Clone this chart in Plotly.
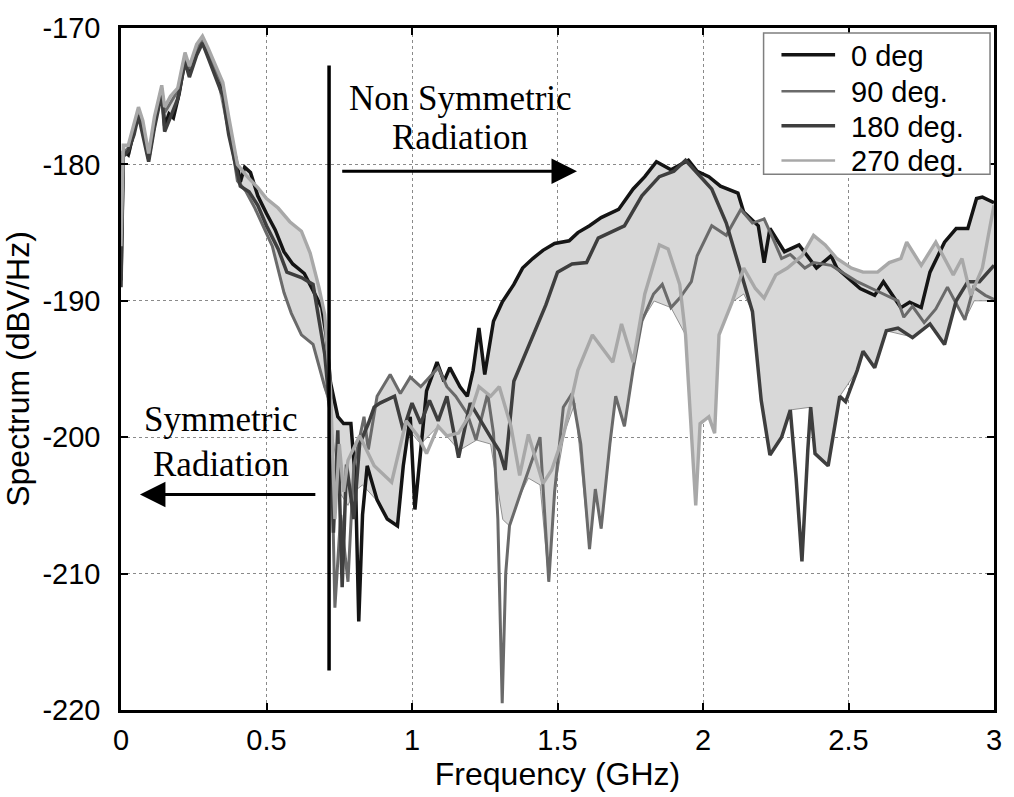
import numpy as np
import plotly.graph_objects as go

# ---------------- data ----------------
freq_0 = [0.000, 0.008, 0.025, 0.045, 0.060, 0.075, 0.095, 0.115, 0.140, 0.150, 0.165, 0.180, 0.200, 0.220, 0.235,
          0.260, 0.280, 0.300, 0.330, 0.350, 0.370, 0.395, 0.410, 0.425, 0.445, 0.470, 0.500, 0.530, 0.560, 0.590,
          0.630, 0.660, 0.690, 0.705, 0.720, 0.745, 0.765, 0.790, 0.806, 0.817, 0.830, 0.846, 0.860, 0.880, 0.915,
          0.950, 0.970, 0.994, 1.010, 1.030, 1.050, 1.086, 1.110, 1.130, 1.165, 1.190, 1.210, 1.230, 1.250, 1.280,
          1.310, 1.350, 1.380, 1.415, 1.450, 1.490, 1.540, 1.570, 1.610, 1.650, 1.710, 1.760, 1.800, 1.840, 1.890,
          1.950, 1.980, 2.020, 2.060, 2.120, 2.140, 2.190, 2.210, 2.230, 2.280, 2.330, 2.390, 2.440, 2.460, 2.540,
          2.590, 2.620, 2.680, 2.710, 2.750, 2.780, 2.830, 2.870, 2.910, 2.940, 2.960, 3.000]
spec_0 = [-188.5, -179.0, -179.3, -177.5, -176.2, -177.5, -179.6, -177.0, -174.6, -177.2, -176.3, -176.6, -174.8,
          -172.3, -173.4, -171.8, -170.9, -172.0, -173.6, -174.6, -177.5, -179.6, -181.3, -180.2, -180.6, -182.3,
          -183.6, -184.8, -186.4, -187.3, -188.0, -189.2, -190.5, -192.5, -196.0, -198.5, -199.0, -199.0, -203.3,
          -213.5, -205.7, -202.1, -203.1, -204.6, -206.0, -206.5, -202.1, -198.5, -205.3, -200.9, -196.6, -194.5,
          -195.9, -194.9, -196.3, -197.0, -195.1, -192.0, -195.4, -191.5, -190.1, -188.8, -187.6, -186.9, -186.3,
          -185.8, -185.6, -185.0, -184.5, -183.9, -183.3, -181.8, -180.9, -179.8, -180.4, -179.7, -180.5, -180.9,
          -181.6, -182.1, -183.5, -184.5, -187.2, -184.7, -186.4, -185.9, -187.6, -186.7, -187.6, -189.1, -189.6,
          -188.6, -190.5, -190.1, -190.5, -187.9, -185.7, -184.7, -184.7, -182.5, -182.4, -182.8]

freq_90 = [0.000, 0.008, 0.025, 0.045, 0.060, 0.075, 0.095, 0.115, 0.140, 0.150, 0.170, 0.195, 0.220, 0.235, 0.260,
           0.280, 0.300, 0.330, 0.350, 0.370, 0.400, 0.430, 0.460, 0.490, 0.520, 0.560, 0.585, 0.620, 0.660, 0.700,
           0.720, 0.735, 0.755, 0.780, 0.800, 0.835, 0.850, 0.880, 0.925, 0.960, 0.994, 1.030, 1.090, 1.120, 1.150,
           1.190, 1.220, 1.260, 1.280, 1.295, 1.310, 1.322, 1.335, 1.370, 1.400, 1.440, 1.470, 1.490, 1.520, 1.550,
           1.580, 1.610, 1.630, 1.650, 1.680, 1.700, 1.730, 1.760, 1.790, 1.830, 1.860, 1.890, 1.920, 1.960, 1.980,
           2.030, 2.080, 2.130, 2.170, 2.210, 2.240, 2.270, 2.300, 2.350, 2.380, 2.440, 2.500, 2.530, 2.600, 2.670,
           2.690, 2.720, 2.760, 2.800, 2.840, 2.870, 2.900, 2.930, 2.970, 3.000]
spec_90 = [-187.5, -179.2, -178.8, -177.2, -176.0, -177.2, -179.4, -176.8, -174.4, -176.2, -175.5, -174.6, -172.0,
           -173.0, -171.5, -170.8, -171.8, -173.4, -174.2, -177.0, -181.2, -182.0, -183.2, -184.6, -186.0, -189.4,
           -190.9, -192.5, -193.2, -196.3, -197.5, -212.5, -205.7, -210.6, -202.1, -198.5, -200.9, -197.0, -195.4,
           -196.8, -195.6, -196.3, -194.9, -196.3, -197.0, -198.3, -200.2, -196.8, -199.7, -206.0, -219.5, -210.0,
           -206.5, -204.3, -202.5, -200.0, -210.6, -204.0, -197.8, -196.8, -200.5, -208.2, -203.8, -206.7, -200.5,
           -197.0, -199.2, -195.0, -191.5, -189.5, -188.8, -190.5, -189.8, -188.6, -186.7, -184.5, -185.2, -183.3,
           -184.3, -184.0, -185.4, -186.9, -186.6, -187.6, -187.2, -187.4, -188.2, -188.6, -189.3, -190.0, -191.2,
           -190.4, -191.6, -190.6, -189.0, -190.2, -191.4, -189.0, -189.6, -189.9]

freq_180 = [0.000, 0.008, 0.025, 0.045, 0.060, 0.075, 0.095, 0.115, 0.140, 0.150, 0.170, 0.195, 0.220, 0.235, 0.260,
            0.280, 0.300, 0.330, 0.350, 0.370, 0.395, 0.410, 0.440, 0.470, 0.500, 0.540, 0.570, 0.620, 0.660, 0.700,
            0.720, 0.730, 0.745, 0.760, 0.775, 0.800, 0.820, 0.850, 0.870, 0.890, 0.940, 0.970, 1.000, 1.030, 1.060,
            1.090, 1.120, 1.160, 1.200, 1.240, 1.270, 1.300, 1.320, 1.350, 1.400, 1.460, 1.500, 1.550, 1.600, 1.640,
            1.730, 1.790, 1.850, 1.900, 1.940, 1.980, 2.030, 2.080, 2.120, 2.170, 2.200, 2.230, 2.270, 2.300, 2.320,
            2.340, 2.360, 2.370, 2.385, 2.430, 2.470, 2.490, 2.530, 2.550, 2.590, 2.630, 2.670, 2.720, 2.780, 2.830,
            2.870, 2.910, 2.950, 3.000]
spec_180 = [-189.0, -179.4, -179.0, -177.8, -176.4, -177.8, -179.8, -177.3, -174.8, -177.6, -176.5, -175.2, -172.5,
            -173.6, -172.0, -171.1, -172.2, -173.8, -175.0, -177.8, -180.2, -181.6, -182.0, -183.0, -184.5, -186.2,
            -187.9, -188.3, -188.8, -193.9, -198.5, -207.0, -199.5, -211.0, -202.0, -206.0, -200.5, -199.0, -197.8,
            -197.5, -197.0, -199.5, -197.5, -199.0, -197.3, -198.8, -197.0, -201.5, -197.5, -199.0, -200.0, -201.0,
            -202.4, -195.9, -193.4, -190.3, -187.9, -187.3, -187.2, -185.4, -184.5, -182.3, -180.9, -180.5, -179.7,
            -180.6, -181.8, -184.3, -187.2, -190.8, -197.3, -201.3, -200.0, -198.0, -203.0, -209.1, -201.0, -197.8,
            -201.2, -202.1, -197.0, -197.4, -195.1, -193.7, -194.9, -192.2, -192.0, -192.7, -191.7, -193.2, -190.0,
            -188.6, -188.6, -187.4]

freq_270 = [0.000, 0.008, 0.025, 0.045, 0.060, 0.075, 0.095, 0.115, 0.140, 0.150, 0.170, 0.195, 0.220, 0.235, 0.260,
            0.280, 0.300, 0.330, 0.350, 0.370, 0.400, 0.430, 0.470, 0.500, 0.540, 0.580, 0.620, 0.650, 0.680, 0.700,
            0.720, 0.735, 0.750, 0.765, 0.780, 0.820, 0.870, 0.930, 0.980, 1.020, 1.050, 1.090, 1.120, 1.160, 1.200,
            1.230, 1.270, 1.300, 1.340, 1.370, 1.400, 1.450, 1.480, 1.520, 1.570, 1.620, 1.650, 1.690, 1.720, 1.760,
            1.800, 1.850, 1.880, 1.920, 1.940, 1.960, 1.975, 1.990, 2.020, 2.040, 2.055, 2.100, 2.140, 2.180, 2.210,
            2.250, 2.290, 2.340, 2.380, 2.420, 2.460, 2.510, 2.550, 2.600, 2.640, 2.680, 2.700, 2.750, 2.800, 2.860,
            2.890, 2.920, 2.960, 2.985, 3.000]
spec_270 = [-186.0, -178.6, -178.6, -177.0, -175.8, -176.8, -179.2, -176.5, -174.2, -175.8, -175.0, -174.4, -171.8,
            -172.8, -171.2, -170.6, -171.5, -173.0, -174.0, -176.5, -180.0, -180.8, -181.7, -182.5, -183.2, -184.2,
            -184.9, -186.5, -189.0, -191.0, -196.5, -206.0, -200.5, -204.0, -201.7, -199.9, -202.1, -203.3, -198.8,
            -199.9, -201.2, -199.2, -199.9, -199.7, -198.3, -196.3, -197.0, -196.3, -199.2, -202.8, -199.8, -203.4,
            -202.4, -199.9, -195.1, -192.5, -193.4, -194.5, -191.7, -194.5, -189.5, -185.9, -186.2, -188.8, -192.5,
            -199.7, -205.0, -199.0, -198.5, -199.7, -192.5, -190.1, -187.6, -189.1, -189.8, -188.1, -187.6, -186.7,
            -185.2, -185.9, -186.9, -187.6, -187.9, -187.9, -187.2, -186.9, -185.7, -187.4, -185.7, -188.1, -186.9,
            -189.6, -187.6, -184.7, -183.0]

# lower edge of the grey shaded band
band_freq = [0.0, 0.01, 0.03, 0.06, 0.095, 0.14, 0.15, 0.2, 0.22, 0.28, 0.33, 0.37, 0.40, 0.43, 0.46, 0.49, 0.52,
             0.56, 0.585, 0.62, 0.66, 0.70, 0.72, 0.75, 0.78, 0.80, 0.83, 0.88, 0.915, 0.95, 0.97, 0.99, 1.03, 1.09,
             1.16, 1.22, 1.27, 1.31, 1.335, 1.37, 1.40, 1.44, 1.47, 1.49, 1.52, 1.56, 1.61, 1.63, 1.65, 1.68, 1.70,
             1.73, 1.76, 1.79, 1.83, 1.89, 1.94, 1.96, 1.975, 1.99, 2.02, 2.04, 2.055, 2.10, 2.14, 2.17, 2.20, 2.23,
             2.27, 2.30, 2.37, 2.385, 2.43, 2.47, 2.53, 2.55, 2.59, 2.63, 2.72, 2.78, 2.83, 2.87, 2.90, 2.93, 3.0]
band_lower = [-188.5, -179.4, -179.3, -176.4, -179.8, -174.8, -177.6, -175.2, -172.5, -171.1, -173.8, -177.8,
              -181.2, -182.0, -183.2, -184.6, -186.0, -189.4, -190.9, -192.5, -193.2, -196.3, -198.5, -204.0,
              -205.0, -204.0, -203.5, -204.6, -206.0, -206.5, -202.1, -199.5, -200.5, -199.2, -201.0, -200.2,
              -200.5, -206.0, -206.5, -204.3, -203.0, -203.5, -210.6, -204.0, -199.9, -197.5, -208.2, -203.8,
              -206.7, -200.5, -197.0, -199.2, -195.0, -191.5, -190.0, -190.5, -192.5, -199.7, -205.0, -199.0,
              -198.5, -199.7, -192.5, -190.1, -189.5, -190.8, -197.3, -201.3, -200.0, -198.0, -197.8, -201.2,
              -202.1, -197.0, -195.1, -193.7, -194.9, -192.2, -192.7, -191.7, -193.2, -190.2, -191.4, -190.0, -190.0]

series_names = ["0 deg", "90 deg.", "180 deg.", "270 deg."]
x_ticks = [0, 0.5, 1, 1.5, 2, 2.5, 3]
y_ticks = [-220, -210, -200, -190, -180, -170]

# ---------------- figure ----------------
series = [(freq_0, spec_0), (freq_90, spec_90), (freq_180, spec_180), (freq_270, spec_270)]
colors = ["#141414", "#6a6a6a", "#3e3e3e", "#a8a8a8"]
widths = [3.5, 3.0, 3.5, 3.4]
legend_widths = [3.5, 2.4, 3.5, 2.4]

grid = np.linspace(0, 3, 1501)
interp = np.array([np.interp(grid, fx, fy) for fx, fy in series])
upper = interp.max(axis=0)
lower = np.minimum(np.interp(grid, band_freq, band_lower), upper)

fig = go.Figure()
fig.add_trace(go.Scatter(x=grid, y=lower, mode="lines", line=dict(color="#7a7a7a", width=0.8),
                         showlegend=False, hoverinfo="skip"))
fig.add_trace(go.Scatter(x=grid, y=upper, mode="lines", line=dict(color="#7a7a7a", width=0.8),
                         fill="tonexty", fillcolor="#d8d8d8", showlegend=False, hoverinfo="skip"))

for (fx, fy), name, c, w in zip(series, series_names, colors, widths):
    fig.add_trace(go.Scatter(x=fx, y=fy, mode="lines", name=name, line=dict(color=c, width=w),
                             showlegend=False))

# vertical separator
fig.add_shape(type="line", x0=0.715, x1=0.715, y0=-172.75, y1=-217.1, xref="x", yref="y",
              line=dict(color="black", width=3.5))

serif = dict(family="Liberation Serif, Times New Roman, serif", size=35, color="black")
for txt, x, y in [("Non Symmetric", 1.165, -175.2), ("Radiation", 1.165, -178.0),
                  ("Symmetric", 0.345, -198.7), ("Radiation", 0.345, -202.0)]:
    fig.add_annotation(x=x, y=y, xref="x", yref="y", text=txt, showarrow=False, font=serif,
                       xanchor="center", yanchor="middle")

# arrows
fig.add_annotation(x=1.567, y=-180.5, ax=0.755, ay=-180.5, xref="x", yref="y", axref="x", ayref="y",
                   text="", showarrow=True, arrowhead=2, arrowsize=1.7, arrowwidth=3, arrowcolor="black")
fig.add_annotation(x=0.065, y=-204.2, ax=0.673, ay=-204.2, xref="x", yref="y", axref="x", ayref="y",
                   text="", showarrow=True, arrowhead=2, arrowsize=1.7, arrowwidth=3, arrowcolor="black")

# ---- legend drawn in the upper right corner (pixel layout converted to paper coords) ----
L, R, T, B = 119, 998, 20, 710
def px(xp):
    return (xp - L) / (R - L)
def py(yp):
    return (B - yp) / (B - T)

fig.add_shape(type="rect", xref="paper", yref="paper", x0=px(766), x1=px(994), y0=py(168), y1=py(25),
              line=dict(color="#7f7f7f", width=1.5), fillcolor="white", layer="above")
leg_rows = [47, 84, 119, 154]
for name, c, w, row in zip(series_names, colors, legend_widths, leg_rows):
    fig.add_shape(type="line", xref="paper", yref="paper", x0=px(784), x1=px(838), y0=py(row), y1=py(row),
                  line=dict(color=c, width=w), layer="above")
    fig.add_annotation(x=px(852), y=py(row + 1), xref="paper", yref="paper", text=name, showarrow=False,
                       xanchor="left", yanchor="middle",
                       font=dict(family="Liberation Sans, Arial, sans-serif", size=29, color="black"))

axis_font = dict(family="Liberation Sans, Arial, sans-serif", size=29, color="black")
title_font = dict(family="Liberation Sans, Arial, sans-serif", size=32, color="black")
fig.update_layout(
    width=1014, height=797,
    margin=dict(l=119, r=16, t=20, b=87),
    paper_bgcolor="white", plot_bgcolor="white",
    font=dict(family="Liberation Sans, Arial, sans-serif", color="black"),
    showlegend=False,
)
fig.update_xaxes(range=[0, 3], tickvals=x_ticks, ticktext=[f"{v:g}" for v in x_ticks],
                 showgrid=True, gridcolor="#8a8a8a", griddash="dot", gridwidth=1.3,
                 showline=True, linecolor="black", linewidth=2.5, mirror="ticks",
                 ticks="inside", ticklen=7, tickwidth=1.5, tickcolor="black",
                 tickfont=axis_font, zeroline=False, ticklabelstandoff=2,
                 title=dict(text="Frequency (GHz)", font=title_font, standoff=6))
fig.update_yaxes(range=[-220, -170], tickvals=y_ticks, ticktext=[str(v) for v in y_ticks],
                 showgrid=True, gridcolor="#8a8a8a", griddash="dot", gridwidth=1.3,
                 showline=True, linecolor="black", linewidth=2.5, mirror="ticks",
                 ticks="inside", ticklen=7, tickwidth=1.5, tickcolor="black",
                 tickfont=axis_font, zeroline=False, ticklabelstandoff=12,
                 title=dict(text="Spectrum (dBV/Hz)", font=title_font, standoff=8))

fig.write_html("out.html")
